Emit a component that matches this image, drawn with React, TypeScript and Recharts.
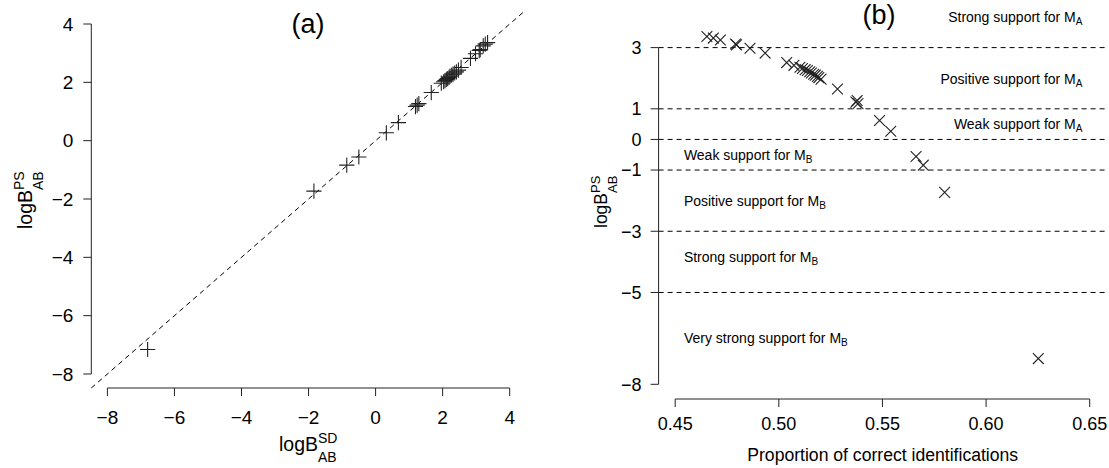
import React from "react";
import {
  ScatterChart,
  Scatter,
  XAxis,
  YAxis,
  ReferenceLine,
} from "recharts";

// ── Data ──────────────────────────────────────────────────────────────────────

// log Bayes factor from the SD (Savage–Dickey) method, panel (a) x
const logBSD = [
  -6.8, -1.84, -0.86, -0.5, 0.32, 0.68, 1.19, 1.24, 1.29, 1.66,
  1.96, 2.03, 2.07, 2.11, 2.15, 2.19, 2.22, 2.27, 2.31, 2.36,
  2.41, 2.47, 2.55, 2.83, 2.98, 3.09, 3.12, 3.21, 3.27, 3.34,
];

// log Bayes factor from the PS method, y in both panels
const logBPS = [
  -7.16, -1.73, -0.84, -0.56, 0.27, 0.62, 1.17, 1.22, 1.27, 1.65,
  1.97, 2.02, 2.06, 2.1, 2.13, 2.17, 2.21, 2.25, 2.28, 2.32,
  2.36, 2.42, 2.51, 2.82, 2.98, 3.09, 3.12, 3.25, 3.31, 3.36,
];

// proportion of correct identifications, panel (b) x
const propCorrect = [
  0.6252, 0.58, 0.5697, 0.5662, 0.554, 0.5486, 0.5382, 0.5372, 0.5378, 0.5283,
  0.5204, 0.5193, 0.5186, 0.5176, 0.5168, 0.5157, 0.5149, 0.5138, 0.5127, 0.5114,
  0.5102, 0.5073, 0.5038, 0.4934, 0.4861, 0.4796, 0.4791, 0.4718, 0.4684, 0.4653,
];

const ticksA = [-8, -6, -4, -2, 0, 2, 4];
const ticksBx = [0.45, 0.5, 0.55, 0.6, 0.65];
const ticksBy = [3, 1, 0, -1, -3, -5, -8];
const thresholds = [3, 1, 0, -1, -3, -5];

const supportText = [
  "Strong support for M",
  "Positive support for M",
  "Weak support for M",
  "Weak support for M",
  "Positive support for M",
  "Strong support for M",
  "Very strong support for M",
];
const supportModel = ["A", "A", "A", "B", "B", "B", "B"];
const supportY = [4.0, 1.98, 0.5, -0.52, -2.02, -3.85, -6.48];
const supportX = [0.6465, 0.6465, 0.6465, 0.4542, 0.4542, 0.4542, 0.4542];

const dataA = logBSD.map((sd, i) => ({ x: sd, y: logBPS[i] }));
const dataB = propCorrect.map((p, i) => ({ x: p, y: logBPS[i] }));
const labelsB = supportText.map((t, i) => ({
  x: supportX[i],
  y: supportY[i],
  text: t,
  sub: supportModel[i],
  anchor: supportModel[i] === "A" ? "end" : "start",
}));

// ── Styles ────────────────────────────────────────────────────────────────────

const FONT = "'Liberation Sans', Arial, Helvetica, sans-serif";
const INK = "#222";
const minus = (v: number) => String(v).replace("-", "\u2212");

const PlusMark = (p: any) => {
  const s = 7.6;
  return (
    <path
      d={`M${p.cx - s},${p.cy}H${p.cx + s}M${p.cx},${p.cy - s}V${p.cy + s}`}
      stroke={INK}
      strokeWidth={1.1}
      fill="none"
    />
  );
};

const CrossMark = (p: any) => {
  const s = 5.4;
  return (
    <path
      d={`M${p.cx - s},${p.cy - s}L${p.cx + s},${p.cy + s}M${p.cx - s},${p.cy + s}L${p.cx + s},${p.cy - s}`}
      stroke={INK}
      strokeWidth={1.1}
      fill="none"
    />
  );
};

const SupportLabel = (p: any) => {
  const d = p.payload;
  return (
    <text
      x={p.cx}
      y={p.cy}
      dy="0.36em"
      textAnchor={d.anchor}
      fontFamily={FONT}
      fontSize={14}
      fill="#000"
    >
      {d.text}
      <tspan fontSize={10} dy={3}>
        {d.sub}
      </tspan>
    </text>
  );
};

// ── Panel (a) ────────────────────────────────────────────────────────────────

function PanelA() {
  const dom = [-8.48, 4.48];
  const tick = { fill: "#000", fontSize: 19, fontFamily: FONT };
  return (
    <ScatterChart
      width={540}
      height={468}
      margin={{ top: 10, left: 31.3, right: 14.2, bottom: 20 }}
    >
      <XAxis
        type="number"
        dataKey="x"
        domain={dom}
        allowDataOverflow
        ticks={ticksA}
        tickFormatter={minus}
        height={60}
        axisLine={false}
        tickLine={{ stroke: INK }}
        tickSize={8}
        tickMargin={15}
        tick={tick}
        interval={0}
      />
      <YAxis
        type="number"
        dataKey="y"
        domain={dom}
        allowDataOverflow
        ticks={ticksA}
        tickFormatter={minus}
        width={60}
        axisLine={false}
        tickLine={{ stroke: INK }}
        tickSize={8}
        tickMargin={10}
        tick={tick}
        interval={0}
      />
      <ReferenceLine
        segment={[{ x: -8, y: -8.48 }, { x: 4, y: -8.48 }]}
        stroke={INK}
        ifOverflow="visible"
      />
      <ReferenceLine
        segment={[{ x: -8.48, y: -8 }, { x: -8.48, y: 4 }]}
        stroke={INK}
        ifOverflow="visible"
      />
      <ReferenceLine
        segment={[{ x: -8.48, y: -8.48 }, { x: 4.48, y: 4.48 }]}
        stroke="#000"
        strokeDasharray="5 4"
        ifOverflow="visible"
      />
      <Scatter data={dataA} shape={PlusMark} isAnimationActive={false} />
    </ScatterChart>
  );
}

// ── Panel (b) ────────────────────────────────────────────────────────────────

function PanelB() {
  const tick = { fill: "#000", fontSize: 18, fontFamily: FONT };
  return (
    <ScatterChart
      width={569}
      height={468}
      margin={{ top: 2.3, left: 58.6, right: 2.7, bottom: 19 }}
    >
      <XAxis
        type="number"
        dataKey="x"
        domain={[0.442, 0.658]}
        allowDataOverflow
        ticks={ticksBx}
        tickFormatter={(v: number) => v.toFixed(2)}
        height={50}
        axisLine={false}
        tickLine={{ stroke: INK }}
        tickSize={8}
        tickMargin={10}
        tick={tick}
        interval={0}
      />
      <YAxis
        type="number"
        dataKey="y"
        domain={[-8.48, 4.48]}
        allowDataOverflow
        ticks={ticksBy}
        tickFormatter={minus}
        width={60}
        axisLine={false}
        tickLine={{ stroke: INK }}
        tickSize={8}
        tickMargin={9}
        tick={tick}
        interval={0}
      />
      {thresholds.map((t) => (
        <ReferenceLine key={t} y={t} stroke="#000" strokeDasharray="5 4" />
      ))}
      <ReferenceLine
        segment={[{ x: 0.45, y: -8.48 }, { x: 0.65, y: -8.48 }]}
        stroke={INK}
        ifOverflow="visible"
      />
      <ReferenceLine
        segment={[{ x: 0.442, y: -8 }, { x: 0.442, y: 3 }]}
        stroke={INK}
        ifOverflow="visible"
      />
      <Scatter data={dataB} shape={CrossMark} isAnimationActive={false} />
      <Scatter data={labelsB} shape={SupportLabel} isAnimationActive={false} />
    </ScatterChart>
  );
}

// ── Titles and axis labels ───────────────────────────────────────────────────

function Titles() {
  return (
    <svg
      width={1109}
      height={468}
      style={{ position: "absolute", left: 0, top: 0, pointerEvents: "none" }}
      fontFamily={FONT}
    >
      <text x={308} y={33} fontSize={27} textAnchor="middle">(a)</text>
      <text x={879} y={24} fontSize={27} textAnchor="middle">(b)</text>

      <text x={279} y={451} fontSize={19.5}>
        logB
        <tspan fontSize={14} dy={-8}>SD</tspan>
        <tspan fontSize={14} dx={-19.5} dy={19}>AB</tspan>
      </text>

      <g transform="translate(32,200) rotate(-90)">
        <text x={-29} y={0} fontSize={19.5}>
          logB
          <tspan fontSize={14} dy={-8}>PS</tspan>
          <tspan fontSize={14} dx={-18.7} dy={19}>AB</tspan>
        </text>
      </g>

      <g transform="translate(607,202) rotate(-90)">
        <text x={-26} y={0} fontSize={17.5}>
          logB
          <tspan fontSize={13} dy={-7}>PS</tspan>
          <tspan fontSize={13} dx={-17.3} dy={17}>AB</tspan>
        </text>
      </g>

      <text x={882.7} y={461} fontSize={17.6} textAnchor="middle">
        Proportion of correct identifications
      </text>
    </svg>
  );
}

export default function App() {
  return (
    <div
      style={{
        position: "absolute",
        left: 0,
        top: 0,
        width: 1109,
        height: 468,
        background: "#fff",
        overflow: "hidden",
      }}
    >
      <div style={{ position: "absolute", left: 0, top: 0 }}>
        <PanelA />
      </div>
      <div style={{ position: "absolute", left: 540, top: 0 }}>
        <PanelB />
      </div>
      <Titles />
    </div>
  );
}
